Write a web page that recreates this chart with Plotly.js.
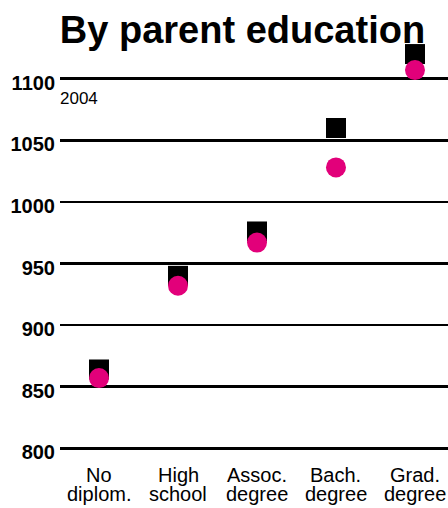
<!DOCTYPE html>
<html>
<head>
<meta charset="utf-8">
<script src="https://cdn.plot.ly/plotly-3.0.1.min.js"></script>
<style>html,body{margin:0;padding:0;background:#fff;}#chart{width:448px;height:508px;}</style>
</head>
<body>
<div id="chart"></div>
<script>
const categories = ['No diplom.', 'High school', 'Assoc. degree', 'Bach. degree', 'Grad. degree'];
const squareValues = [864, 940, 976, 1060, 1120];
const circleValues = [857, 932, 967, 1028, 1107];
const yTicks = [800, 850, 900, 950, 1000, 1050, 1100];
const yearLabel = '2004';
const titleText = 'By parent education';

const FONT = 'Liberation Sans, Arial, sans-serif';

const traces = [
  {
    type: 'scatter', mode: 'markers', name: 'Score A',
    x: categories, y: squareValues,
    marker: {symbol: 'square', size: 20, color: '#000000'},
    cliponaxis: false, hoverinfo: 'skip'
  },
  {
    type: 'scatter', mode: 'markers', name: 'Score B',
    x: categories, y: circleValues,
    marker: {symbol: 'circle', size: 20, color: '#e2007a'},
    cliponaxis: false, hoverinfo: 'skip'
  }
];

const annotations = [];
categories.forEach(function (c) {
  const parts = c.split(' ');
  annotations.push({xref: 'x', yref: 'paper', x: c, y: 0, yanchor: 'middle', xanchor: 'center',
    yshift: -19.7, text: parts[0], showarrow: false, font: {family: FONT, size: 20, color: '#000'}});
  annotations.push({xref: 'x', yref: 'paper', x: c, y: 0, yanchor: 'middle', xanchor: 'center',
    yshift: -38.7, text: parts[1], showarrow: false, font: {family: FONT, size: 20, color: '#000'}});
});
annotations.push({xref: 'paper', yref: 'y', x: 0, y: yTicks[yTicks.length - 1], xanchor: 'left', yanchor: 'middle',
  yshift: -20.3, xshift: -2, text: yearLabel, showarrow: false, font: {family: FONT, size: 17, color: '#000'}});

const layout = {
  width: 448, height: 508,
  margin: {l: 60, r: 0, t: 40, b: 53, pad: 0},
  paper_bgcolor: '#ffffff', plot_bgcolor: '#ffffff',
  showlegend: false,
  title: {
    text: titleText,
    x: 242.5 / 448, xanchor: 'center',
    y: 1 - 30 / 508, yanchor: 'middle',
    font: {family: FONT, size: 38, weight: 'bold', color: '#000'}
  },
  xaxis: {
    type: 'category', range: [-0.494, 4.418],
    showgrid: false, zeroline: false, showline: false, showticklabels: false, ticks: ''
  },
  yaxis: {
    range: [794.6, 1131.4],
    tickvals: yTicks, ticktext: yTicks.map(String),
    showgrid: true, gridcolor: '#000000', gridwidth: 2.5,
    zeroline: false, showline: false, ticks: '',
    ticklabelstandoff: 4, ticklabelshift: 4,
    tickfont: {family: FONT, size: 20, weight: 'bold', color: '#000'}
  },
  annotations: annotations
};

Plotly.newPlot('chart', traces, layout, {staticPlot: true, displayModeBar: false});
</script>
</body>
</html>
